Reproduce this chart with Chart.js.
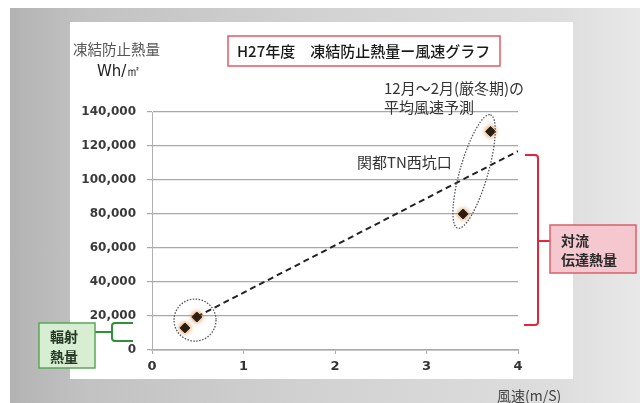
<!DOCTYPE html>
<html lang="ja">
<head>
<meta charset="utf-8">
<script src="https://cdn.jsdelivr.net/npm/chart.js@4/dist/chart.umd.min.js"></script>
<style>
  html, body { margin: 0; padding: 0; background: #ffffff; }
  #wrap { position: relative; width: 640px; height: 403px; overflow: hidden; }
  #backdrop {
    position: absolute; left: 10px; top: 8px; right: 0; bottom: 0;
    background: linear-gradient(to right, #b3b3b3 0%, #c2c2c2 12%, #d2d2d2 50%, #dedede 88%, #e8e8e8 100%);
  }
  #panel { position: absolute; left: 70px; top: 22px; width: 503px; height: 357px; background: #ffffff; }
  canvas { position: absolute; left: 0; top: 0; }
</style>
</head>
<body>
<div id="wrap">
  <div id="backdrop"></div>
  <div id="panel"></div>
  <canvas id="chart" width="640" height="403"></canvas>
</div>
<script>
// Measured wind speed (m/s) and anti-freeze heat amount (Wh/m2)
const windSpeed = [0.36, 0.49, 3.40, 3.70];
const heatAmount = [13000, 19400, 80000, 128500];

// Linear trend line end points
const trendSpeed = [0.49, 4.0];
const trendHeat = [19600, 117000];

// Axis ticks
const xTicks = [0, 1, 2, 3, 4];
const yTicks = [0, 20000, 40000, 60000, 80000, 100000, 120000, 140000];

const titleText = 'H27年度　凍結防止熱量ー風速グラフ';
const yTitle = ['凍結防止熱量', 'Wh/㎡'];
const xTitle = '風速(m/S)';
const forecastNote = ['12月～2月(厳冬期)の', '平均風速予測'];
const siteNote = '関都TN西坑口';
const convectionLabel = ['対流', '伝達熱量'];
const radiationLabel = ['輻射', '熱量'];

const CJK = '"Noto Sans CJK JP", "DejaVu Sans", sans-serif';
const NUM = '"DejaVu Sans", sans-serif';

// Brown glow behind the diamond markers
const glowPlugin = {
  id: 'markerGlow',
  beforeDatasetDraw(chart, args) {
    if (args.index === 1) {
      const ctx = chart.ctx;
      ctx.save();
      ctx.shadowColor = 'rgba(195,105,25,1)';
      ctx.shadowBlur = 5;
    }
  },
  afterDatasetDraw(chart, args) {
    if (args.index === 1) chart.ctx.restore();
  }
};

// Notes, grouping ellipses, brackets and label boxes
const notesPlugin = {
  id: 'notes',
  afterDraw(chart) {
    const ctx = chart.ctx;
    const xs = chart.scales.x, ys = chart.scales.y;
    ctx.save();

    // Title box
    ctx.fillStyle = '#ffffff';
    ctx.fillRect(228, 36, 272, 30);
    ctx.strokeStyle = '#e05a64';
    ctx.lineWidth = 1.5;
    ctx.strokeRect(228, 36, 272, 30);
    ctx.fillStyle = '#1a1a1a';
    ctx.font = '500 15px ' + CJK;
    ctx.textBaseline = 'middle';
    ctx.textAlign = 'left';
    ctx.fillText(titleText, 237, 51);

    // Y axis title
    ctx.fillStyle = '#555555';
    ctx.font = '14.5px ' + CJK;
    ctx.fillText(yTitle[0], 73, 49);
    ctx.fillStyle = '#222222';
    ctx.font = '15px ' + NUM;
    ctx.fillText(yTitle[1], 97, 72);

    // X axis title
    ctx.fillStyle = '#444444';
    ctx.font = '14px ' + CJK;
    ctx.fillText(xTitle, 497, 396);

    // Notes
    ctx.fillStyle = '#333333';
    ctx.font = '15px ' + CJK;
    ctx.fillText(forecastNote[0], 384, 88);
    ctx.fillText(forecastNote[1], 384, 107);
    ctx.fillText(siteNote, 357, 162);

    // Dotted grouping ellipses
    ctx.strokeStyle = '#555555';
    ctx.lineWidth = 1.3;
    ctx.setLineDash([1.5, 1.5]);
    ctx.beginPath();
    ctx.ellipse(xs.getPixelForValue(0.47), ys.getPixelForValue(17600), 21, 21, 0, 0, Math.PI * 2);
    ctx.stroke();
    ctx.beginPath();
    ctx.ellipse(xs.getPixelForValue(3.52), ys.getPixelForValue(105000), 59, 14, -1.29, 0, Math.PI * 2);
    ctx.stroke();
    ctx.setLineDash([]);

    // Red bracket for convection heat
    ctx.strokeStyle = '#e4263a';
    ctx.lineWidth = 2;
    ctx.beginPath();
    ctx.moveTo(525, 155);
    ctx.lineTo(535, 155);
    ctx.quadraticCurveTo(538, 155, 538, 158);
    ctx.lineTo(538, 322);
    ctx.quadraticCurveTo(538, 325, 535, 325);
    ctx.lineTo(524, 325);
    ctx.moveTo(538, 241);
    ctx.lineTo(550, 241);
    ctx.stroke();

    // Convection label box
    ctx.fillStyle = '#f5c8cf';
    ctx.fillRect(550, 225, 86, 48);
    ctx.strokeStyle = '#d8606e';
    ctx.lineWidth = 1.5;
    ctx.strokeRect(550, 225, 86, 48);
    ctx.fillStyle = '#2a2a2a';
    ctx.font = 'bold 14px ' + CJK;
    ctx.fillText(convectionLabel[0], 561, 241);
    ctx.fillText(convectionLabel[1], 561, 260);

    // Green bracket for radiation heat
    ctx.strokeStyle = '#2f8f3a';
    ctx.lineWidth = 2;
    ctx.beginPath();
    ctx.moveTo(133, 323);
    ctx.lineTo(115, 323);
    ctx.quadraticCurveTo(112, 323, 112, 326);
    ctx.lineTo(112, 338);
    ctx.quadraticCurveTo(112, 341, 115, 341);
    ctx.lineTo(133, 341);
    ctx.moveTo(112, 332);
    ctx.lineTo(95, 332);
    ctx.stroke();

    // Radiation label box
    ctx.fillStyle = '#d8eed3';
    ctx.fillRect(39, 323, 56, 45);
    ctx.strokeStyle = '#5aa65a';
    ctx.lineWidth = 1.5;
    ctx.strokeRect(39, 323, 56, 45);
    ctx.fillStyle = '#243824';
    ctx.font = 'bold 14px ' + CJK;
    ctx.fillText(radiationLabel[0], 50, 337);
    ctx.fillText(radiationLabel[1], 50, 357);

    ctx.restore();
  }
};

new Chart(document.getElementById('chart'), {
  type: 'scatter',
  data: {
    datasets: [
      {
        label: 'trend',
        data: trendSpeed.map((x, i) => ({ x: x, y: trendHeat[i] })),
        showLine: true,
        borderColor: '#222222',
        borderWidth: 2,
        borderDash: [6, 4],
        pointRadius: 0,
        order: 2
      },
      {
        label: 'heat',
        data: windSpeed.map((x, i) => ({ x: x, y: heatAmount[i] })),
        pointStyle: 'rectRot',
        pointRadius: 5,
        backgroundColor: '#111111',
        borderColor: '#3a2410',
        borderWidth: 1,
        order: 1
      }
    ]
  },
  options: {
    responsive: false,
    animation: false,
    events: [],
    layout: { padding: { left: 0, top: 112, right: 122, bottom: 0 } },
    plugins: { legend: { display: false }, tooltip: { enabled: false } },
    scales: {
      x: {
        type: 'linear',
        min: xTicks[0],
        max: xTicks[xTicks.length - 1],
        afterFit(s) { s.height = 53; },
        afterBuildTicks(s) { s.ticks = xTicks.map(v => ({ value: v })); },
        grid: { drawOnChartArea: false, color: '#b0b0b0', tickLength: 4 },
        border: { color: '#a8a8a8', width: 1.5 },
        ticks: { color: '#333333', font: { family: NUM, size: 13, weight: 'bold' }, padding: 5 }
      },
      y: {
        type: 'linear',
        min: yTicks[0],
        max: yTicks[yTicks.length - 1],
        afterFit(s) { s.width = 152; },
        afterBuildTicks(s) { s.ticks = yTicks.map(v => ({ value: v })); },
        grid: { color: '#a8a8a8', tickLength: 5, lineWidth: 1.2 },
        border: { color: '#b0b0b0', width: 1 },
        ticks: {
          color: '#3a3a3a',
          font: { family: NUM, size: 12, weight: 'bold' },
          padding: 11,
          callback: v => v.toLocaleString('en-US')
        }
      }
    }
  },
  plugins: [glowPlugin, notesPlugin]
});
</script>
</body>
</html>
